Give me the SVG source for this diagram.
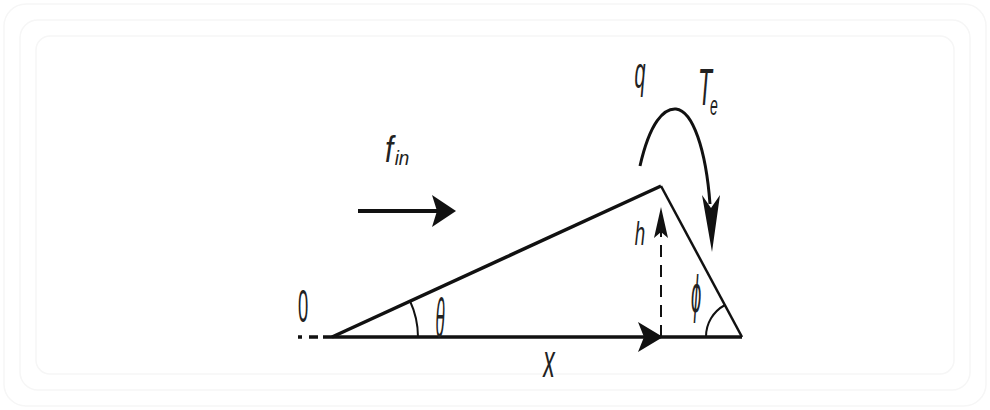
<svg xmlns="http://www.w3.org/2000/svg" width="990" height="410" viewBox="0 0 990 410">
<style>
.frame{fill:none;stroke:#f6f6f6;stroke-width:1.5}
.ln{stroke:#111;fill:none;stroke-linecap:butt}
.arc{stroke:#111;fill:none;stroke-width:2}
.head{fill:#111;stroke:none}
.lbl{font-family:"Liberation Sans",Arial,sans-serif;font-style:italic;fill:#222;text-anchor:middle}
.num{font-family:"Liberation Sans",Arial,sans-serif;fill:#222;text-anchor:middle}
</style>
<rect width="990" height="410" fill="#ffffff"/>
<rect class="frame" x="4" y="4" width="982" height="402" rx="22"/>
<rect class="frame" x="20" y="20" width="950" height="370" rx="18"/>
<rect class="frame" x="36" y="36" width="918" height="338" rx="14"/>

<g id="triangle">
  <line class="ln" x1="332" y1="337" x2="742" y2="337" stroke-width="3.5"/>
  <line class="ln" x1="332" y1="337" x2="661" y2="186" stroke-width="3.5"/>
  <line class="ln" x1="661" y1="186" x2="742" y2="337" stroke-width="2.5"/>
  <path class="ln" d="M298,337 H302 M309,337 H318 M323,337 H332" stroke-width="3.5"/>
  <path class="arc" d="M418,337 A86,86 0 0 0 410,301"/>
  <path class="arc" d="M706,337 A36,36 0 0 1 725,305"/>
</g>

<g id="connectors">
  <line class="ln" x1="358" y1="211" x2="440" y2="211" stroke-width="4"/>
  <polygon class="head" points="456,211 432,195 437,211 432,227"/>
  <polygon class="head" points="663,337 638,322 644,337 638,352"/>
  <line class="ln" x1="661" y1="337" x2="661" y2="232" stroke-width="2" stroke-dasharray="12 8"/>
  <polygon class="head" points="661,207 654,238 661,232 668,238"/>
  <path class="ln" d="M640,166 C650,122 664,108 676,109 C693,111 706,150 710,204" stroke-width="3"/>
  <polygon class="head" points="712,252 702,195 711,208 720,195"/>
</g>

<g id="labels">
  <text class="num" transform="translate(303,322) scale(0.4,1)" font-size="46">0</text>
  <text class="lbl" transform="translate(640,88) scale(0.45,1)" font-size="44">q</text>
  <text class="lbl" transform="translate(705,105) scale(0.45,1)" font-size="51">T</text>
  <text class="lbl" transform="translate(714,115) scale(0.5,1)" font-size="28">e</text>
  <text class="lbl" transform="translate(389,162) scale(0.8,1)" font-size="37">f</text>
  <text class="lbl" transform="translate(402,165) scale(0.9,1)" font-size="21">in</text>
  <text class="lbl" transform="translate(640,245) scale(0.55,1)" font-size="34">h</text>
  <text class="lbl" transform="translate(440,337) scale(0.3,1)" font-size="56">θ</text>
  <text class="lbl" transform="translate(696,312) scale(0.36,1)" font-size="51">ϕ</text>
  <text class="lbl" transform="translate(549,377) scale(0.5,1)" font-size="46">x</text>
</g>
</svg>
